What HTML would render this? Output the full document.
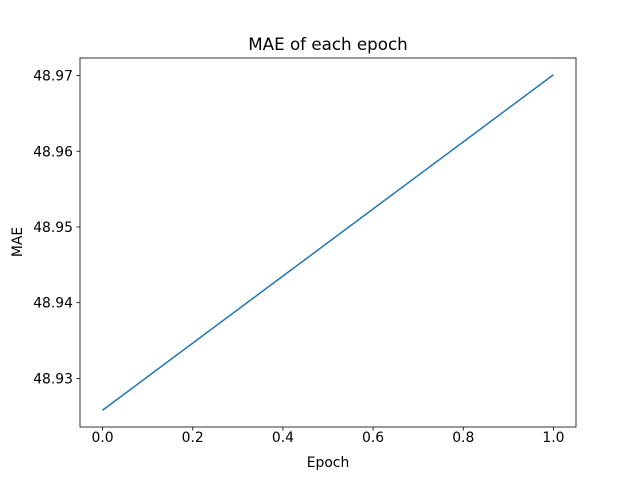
<!DOCTYPE html>
<html><head><meta charset="utf-8"><style>
body{margin:0;background:#fff;}
text{font-family:"DejaVu Sans","Liberation Sans",sans-serif;fill:#000;}
</style></head><body>
<svg id="chart" width="640" height="480" xmlns="http://www.w3.org/2000/svg">
<rect width="640" height="480" fill="#fff"/>
<text x="328" y="50" font-size="16.7" text-anchor="middle">MAE of each epoch</text>
<g id="ticks"></g>
<polyline id="line" fill="none" stroke="#1f77b4" stroke-width="1.5"/>
<rect x="80" y="58" width="496" height="369" fill="none" stroke="#000" stroke-width="0.8"/>
<text x="328" y="467" font-size="13.9" text-anchor="middle">Epoch</text>
<text transform="translate(22,242) rotate(-90)" font-size="13.9" text-anchor="middle">MAE</text>
</svg>
<script>
const epochs=[0,1];
const maeValues=[48.9258,48.9701];
const xTicks=[0,0.2,0.4,0.6,0.8,1.0];
const xTickLabels=["0.0","0.2","0.4","0.6","0.8","1.0"];
const yTicks=[48.93,48.94,48.95,48.96,48.97];
const yTickLabels=["48.93","48.94","48.95","48.96","48.97"];
const NS="http://www.w3.org/2000/svg";
const x0=80,x1=576,y0=58,y1=427;
const xmin=Math.min(...epochs),xmax=Math.max(...epochs),xr=xmax-xmin;
const ymin=Math.min(...maeValues),ymax=Math.max(...maeValues),yr=ymax-ymin;
const xs=v=>x0+(v-(xmin-0.05*xr))/(1.1*xr)*(x1-x0);
const ys=v=>y1-(v-(ymin-0.05*yr))/(1.1*yr)*(y1-y0);
const g=document.getElementById('ticks');
function mk(t,a){const e=document.createElementNS(NS,t);for(const k in a)e.setAttribute(k,a[k]);return e;}
xTicks.forEach((v,i)=>{const x=xs(v);
const l=mk('line',{x1:x,x2:x,y1:y1,y2:y1+3.5,stroke:'#000','stroke-width':0.8});


g.appendChild(l);
const t=mk('text',{x:x,y:y1+15,'font-size':13.9,'text-anchor':'middle'});t.textContent=xTickLabels[i];


g.appendChild(t);});
yTicks.forEach((v,i)=>{const y=ys(v);
const l=mk('line',{x1:x0-3.5,x2:x0,y1:y,y2:y,stroke:'#000','stroke-width':0.8});


g.appendChild(l);
const t=mk('text',{x:x0-7,y:y+5,'font-size':13.9,'text-anchor':'end'});t.textContent=yTickLabels[i];


g.appendChild(t);});
document.getElementById('line').setAttribute('points',epochs.map((e,i)=>xs(e)+','+ys(maeValues[i])).join(' '));
</script>
</body></html>
